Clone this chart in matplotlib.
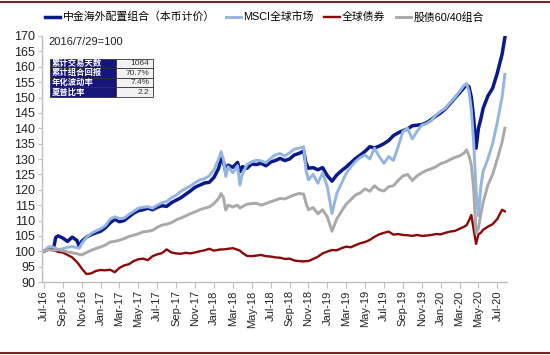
import numpy as np
import matplotlib
matplotlib.use('Agg')
import matplotlib.pyplot as plt
from matplotlib.lines import Line2D

plt.rcParams['font.family'] = ['Liberation Sans', 'Noto Sans CJK SC', 'DejaVu Sans']

# x = months since the Jul-16 tick
months = [0, 0.5, 1, 1.25, 1.5, 2, 2.5, 3, 3.5, 3.75,
          4, 4.5, 5, 5.5, 6, 6.5, 7, 7.5, 8, 8.5,
          9, 9.5, 10, 10.5, 11, 11.5, 12, 12.5, 13, 13.5,
          14, 14.5, 15, 15.5, 16, 16.5, 17, 17.5, 18, 18.5,
          18.75, 19, 19.25, 19.5, 20, 20.5, 20.75, 21, 21.5, 22,
          22.5, 23, 23.5, 24, 24.5, 25, 25.5, 26, 26.5, 27,
          27.5, 27.75, 28, 28.5, 29, 29.5, 30, 30.5, 31, 31.5,
          32, 32.5, 33, 33.5, 34, 34.5, 35, 35.5, 36, 36.5,
          37, 37.5, 38, 38.5, 39, 39.5, 40, 40.5, 41, 41.5,
          42, 42.5, 43, 43.5, 44, 44.5, 44.75, 45, 45.25, 45.5,
          45.75, 46, 46.25, 46.5, 47, 47.5, 48, 48.5, 48.8]

cicc = [100, 100.8, 100.5, 104.5, 105, 104.3, 103.2, 104.6, 103.5, 101.5,
        103.2, 104.6, 105.4, 106, 106.5, 107.6, 109.2, 110.4, 109.6, 110,
        111.2, 112.4, 113.2, 113.5, 114, 113.5, 114.3, 114.8, 114.6, 115.8,
        116.6, 117.4, 118.5, 119.6, 120.8, 121.5, 122.2, 122.4, 124, 127,
        130.2, 129, 125.9, 128, 127.3, 128.9, 125.9, 127.5, 127, 128.4,
        128.2, 128.6, 127.8, 129, 129.5, 130.2, 129.5, 130, 131.3, 131.8,
        132.6, 128.6, 127, 127.2, 126.5, 127.2, 124.6, 122.8, 124.8, 126.2,
        127.4, 128.8, 130.2, 131.3, 132.5, 134, 133.6, 134.2, 135, 136,
        137.6, 138.5, 139.2, 139.8, 140.8, 141, 141.2, 141.8, 142.8, 144,
        145, 146.3, 148, 149.8, 151.5, 153.3, 154, 153.5, 150, 143,
        133.5, 140, 143, 146.5, 150.5, 153, 158, 164, 169.5]

msci = [100, 101.5, 101.3, 101, 100.6, 100.8, 101.3, 101.5, 101.2, 101,
        102.5, 104.5, 105.8, 106.6, 107.3, 108.3, 110.4, 111.2, 110.6, 110.8,
        112, 113, 114, 114.3, 114.5, 114, 115, 115.8, 116.2, 117.4,
        118.2, 119.5, 120.4, 121.2, 122.3, 123.2, 123.6, 124.5, 126.5, 130,
        132.4, 130, 124.3, 127.5, 125.5, 127.8, 121.5, 125, 128.2, 129.1,
        129.6, 129.4, 128.8, 130.2, 131.3, 131.8, 131, 132, 133.2, 133.5,
        134, 126.4, 123.2, 125, 122.1, 125.5, 121, 112.3, 118.8, 122.1,
        125.3, 127.5, 129.2, 130.5, 131.3, 130, 133.5, 130.8, 128.6, 130.8,
        129.5, 134, 138.9, 140, 136.5, 139, 141, 141.5, 142.5, 144.3,
        145.5, 146.5, 148.3, 150, 152, 154, 154.5, 152, 146, 135,
        120, 111.5, 121, 126, 130, 135, 142, 150, 157.5]

bonds = [100, 100.5, 100.4, 100.1, 99.8, 99.6, 98.8, 98, 96.5, 95.5,
         94.4, 92.6, 92.8, 93.6, 93.9, 93.8, 94, 93.2, 94.6, 95.4,
         95.8, 96.8, 97.4, 97.6, 97.1, 98.4, 99, 99.4, 100.6, 99.6,
         99.3, 99.2, 99.5, 99.3, 99.6, 100, 100.3, 100.8, 100.2, 100.5,
         100.6, 100.6, 100.7, 100.8, 101, 100.5, 100.2, 99.5, 98.5, 98.4,
         98.6, 98.8, 98.4, 98.3, 98, 97.9, 97.5, 97.6, 97, 96.8,
         96.7, 96.8, 96.8, 97.5, 98.2, 99.3, 99.9, 100.4, 100.3, 101,
         101.5, 101.3, 102, 102.6, 103, 103.7, 104.7, 105.5, 106, 106.4,
         105.4, 105.6, 105.3, 105.2, 105, 105.3, 105, 105.1, 105.3, 105.6,
         105.5, 106, 106.4, 106.6, 107.3, 108, 108.5, 110, 111.8, 107,
         102.4, 105.5, 106, 107, 108, 108.8, 110.5, 113.5, 113]

mix6040 = [100, 100.5, 100.3, 100.4, 100.5, 100.2, 99.8, 99.5, 99.2, 99,
           98.8, 99.6, 100.3, 100.9, 101.4, 102, 103, 103.2, 103.6, 104.1,
           104.8, 105.2, 105.7, 106.3, 106.5, 106.8, 107.8, 108.5, 108.8, 109.3,
           110.2, 110.8, 111.5, 112.2, 112.8, 113.5, 114, 114.4, 115.5, 117.2,
           118.8, 117.5, 113.4, 115, 114.4, 115, 114, 114.5, 115.3, 115.5,
           115.6, 115, 115.5, 116.1, 116.6, 117.2, 117, 117.7, 118.3, 118.8,
           118.6, 115.6, 113.5, 114.2, 112.2, 113.5, 111.2, 106.5, 110.5, 113,
           115.3, 116.8, 118.3, 119, 120.3, 119.5, 121.3, 120, 119.6, 121,
           121.3, 123, 124.5, 125, 123, 124.5, 125.5, 126.3, 126.8, 127.5,
           128.5, 129, 129.8, 130.5, 131, 132, 133, 131, 128, 120,
           106, 107.5, 112, 116, 121.5, 125, 130, 135.5, 140]

tick_labels = ['Jul-16', 'Sep-16', 'Nov-16', 'Jan-17', 'Mar-17', 'May-17', 'Jul-17',
               'Sep-17', 'Nov-17', 'Jan-18', 'Mar-18', 'May-18', 'Jul-18', 'Sep-18',
               'Nov-18', 'Jan-19', 'Mar-19', 'May-19', 'Jul-19', 'Sep-19', 'Nov-19',
               'Jan-20', 'Mar-20', 'May-20', 'Jul-20']

table_names = ['累计交易天数', '累计组合回报', '年化波动率', '夏普比率']
table_values = ['1064', '70.7%', '7.4%', '2.2']

fig = plt.figure(figsize=(5.5, 3.55), dpi=100)
ax = fig.add_axes([0.0764, 0.2056, 0.845, 0.693])

ax.plot(months, cicc, color='#0b1a8a', lw=2.5, label='中金海外配置组合（本币计价）')
ax.plot(months, msci, color='#93b5e0', lw=2.1, label='MSCI全球市场')
ax.plot(months, bonds, color='#8b0a0a', lw=1.7, label='全球债券')
ax.plot(months, mix6040, color='#a9a9a9', lw=2.1, label='股债60/40组合')

ax.set_ylim(90, 170)
ax.set_yticks(np.arange(90, 171, 5))
ax.set_xlim(-0.2, 49.0)
ax.set_xticks(np.arange(0, 49, 2))
ax.set_xticklabels(tick_labels, rotation=90, fontsize=8, color='#222222')
ax.tick_params(axis='y', labelsize=9, length=3, color='#bfbfbf', pad=2, labelcolor='#222222')
ax.tick_params(axis='x', length=4, color='#bfbfbf', pad=2)
for s in ['top', 'right']:
    ax.spines[s].set_visible(False)
for s in ['left', 'bottom']:
    ax.spines[s].set_color('#bfbfbf')
    ax.spines[s].set_linewidth(1)

ax.text(0.013, 0.975, '2016/7/29=100', transform=ax.transAxes, fontsize=8,
        va='center', ha='left', color='#222222')

tab = ax.table(cellText=[[n, v] for n, v in zip(table_names, table_values)],
               bbox=[0.017, 0.752, 0.222, 0.155], colWidths=[0.64, 0.36])
tab.auto_set_font_size(False)
for (r, c), cell in tab.get_celld().items():
    cell.set_linewidth(0.6)
    cell.set_edgecolor('#333333')
    if c == 0:
        cell.set_facecolor('#16167a')
        cell.get_text().set_color('white')
        cell.get_text().set_fontweight('bold')
        cell.get_text().set_ha('left')
        cell.PAD = 0.03
        cell.get_text().set_fontsize(6)
    else:
        cell.set_facecolor('#f2f2f2')
        cell.get_text().set_fontsize(6)
        cell.get_text().set_color('#333333')

fig.legend(loc='center', bbox_to_anchor=(0.481, 0.952), ncol=4, frameon=False,
           fontsize=7.8, handlelength=1.4, handletextpad=0.2, columnspacing=1.0,
           borderaxespad=0)

fig.add_artist(Line2D([0, 1], [0.995, 0.995], transform=fig.transFigure, color='#7f2424', lw=1.5))
fig.add_artist(Line2D([0, 1], [0.007, 0.007], transform=fig.transFigure, color='#7f2424', lw=1.5))

fig.savefig('out.png', dpi=100, facecolor='white')
